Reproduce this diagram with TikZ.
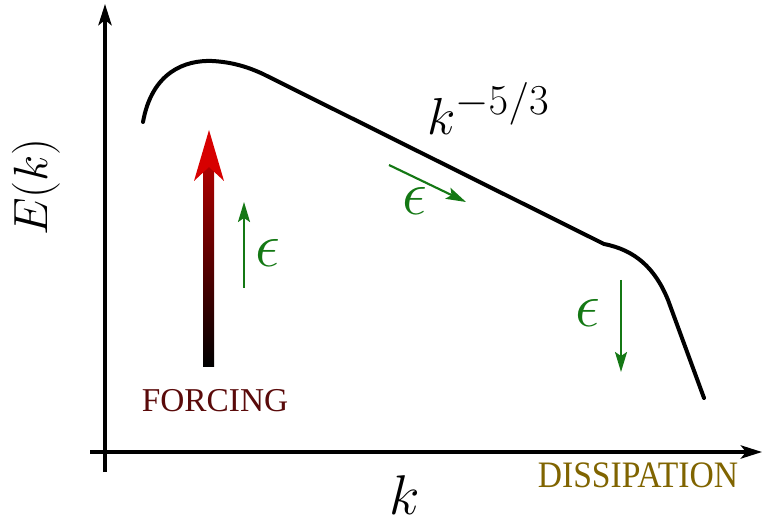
\RequirePackage{fix-cm}
\documentclass[tikz,border=0pt]{standalone}
\usepackage[no-math]{fontspec}
\newfontfamily\lblserif{Liberation Serif}
\usetikzlibrary{arrows.meta}
\definecolor{epsgreen}{RGB}{20,120,20}
\definecolor{forcecol}{RGB}{90,10,10}
\definecolor{dissipcol}{RGB}{128,100,0}
\definecolor{arrred}{RGB}{215,0,0}
\begin{document}
\begin{tikzpicture}[x=0.75pt,y=-0.75pt,
  axis/.style={line width=2.4pt,-{Stealth[length=16pt,width=10pt,inset=4pt]}},
  curve/.style={line width=3pt},
  flux/.style={line width=1.6pt,epsgreen,-{Stealth[length=15pt,width=9pt,inset=3pt]}},
  epslabel/.style={text=epsgreen,inner sep=0pt,font=\fontsize{47}{50}\selectfont},
  biglabel/.style={inner sep=0pt,font=\fontsize{36}{40}\selectfont}]
\useasboundingbox (0,0) rectangle (762,523);
% axes
\coordinate (yb) at (105,472);
\coordinate (yt) at (105,4);
\coordinate (xl) at (90,452);
\coordinate (xr) at (762,452);
\draw[axis] (yb) -- (yt);
\draw[axis] (xl) -- (xr);
% spectrum curve
\coordinate (c0) at (143,122);
\coordinate (c1) at (212,61);
\coordinate (c2) at (263,74);
\coordinate (c3) at (604,244);
\coordinate (c4) at (668,300);
\coordinate (c5) at (704,398);
\draw[curve,line cap=round,line join=round] (c0) .. controls (152,72) and (185,60) .. (c1)
  .. controls (232,62) and (248,67) .. (c2) -- (c3)
  .. controls (635,250) and (655,268) .. (c4) -- (c5);
% forcing arrow
\shade[top color=arrred!80!black,bottom color=black] (203,168) rectangle (214,366);
\fill[arrred] (209,130) -- (224,181) -- (209,167) -- (194,181) -- cycle;
% green flux arrows
\coordinate (f1a) at (244,288);
\coordinate (f1b) at (244,202);
\draw[flux] (f1a) -- (f1b);
\coordinate (f2a) at (389,165);
\coordinate (f2b) at (466,202);
\draw[flux] (f2a) -- (f2b);
\coordinate (f3a) at (621,280);
\coordinate (f3b) at (621,372);
\draw[flux] (f3a) -- (f3b);
\node[epslabel] (e1) at (268,253) {$\epsilon$};
\node[epslabel] (e2) at (415,201) {$\epsilon$};
\node[epslabel] (e3) at (588,313) {$\epsilon$};
% labels
\node[biglabel,rotate=90] (Ek) at (36,187) {$E(k)$};
\node[inner sep=0pt,anchor=base west,font=\fontsize{39}{42}\selectfont] (slope) at (427,135)
  {$k$\raisebox{15pt}{\fontsize{32}{34}\selectfont$-5/3$}};
\node[biglabel,font=\fontsize{42}{44}\selectfont] (kk) at (405,495) {$k$};
\node[inner sep=0pt,text=forcecol,font=\lblserif\fontsize{25}{28}\selectfont] (forc) at (215,401) {FORCING};
\node[inner sep=0pt,text=dissipcol,font=\lblserif\fontsize{28}{30}\selectfont,xscale=0.9] (diss) at (638,475) {DISSIPATION};
\end{tikzpicture}
\end{document}
